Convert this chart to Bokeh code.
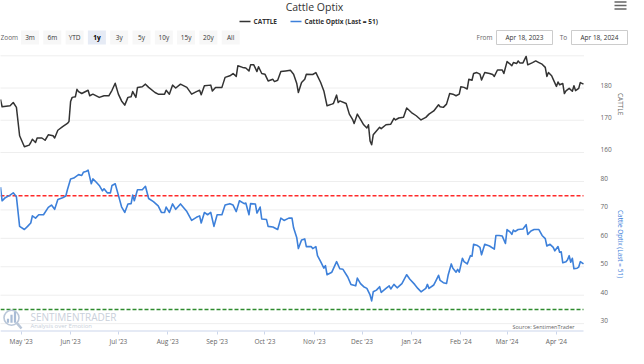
from datetime import datetime, timedelta
import math
from bokeh.plotting import figure
from bokeh.layouts import column
from bokeh.models import Range1d, FixedTicker, DatetimeTickFormatter
from bokeh.embed import file_html
from bokeh.resources import INLINE
from bokeh.core.properties import value

# ---------------- data ----------------
title_text = "Cattle Optix"
series_names = ["CATTLE", "Cattle Optix"]
start_date = datetime(2023, 4, 18)
end_date = datetime(2024, 4, 18)

cattle_days = [0, 1, 6, 8, 10, 12, 15, 18, 19, 20, 22, 23, 26, 28, 30, 33, 34, 36, 39, 42,
               43, 44, 45, 47, 48, 49, 51, 55, 56, 58, 62, 65, 68, 70, 72, 74, 76, 78, 80, 82,
               83, 85, 86, 89, 91, 93, 97, 99, 103, 104, 106, 108, 110, 113, 117, 120, 123, 125, 126, 128,
               132, 133, 135, 139, 141, 144, 146, 148, 149, 152, 154, 156, 157, 159, 161, 162, 164, 166, 168, 171,
               172, 174, 176, 179, 182, 184, 186, 187, 189, 191, 192, 196, 198, 201, 203, 205, 208, 209, 211, 212,
               213, 217, 219, 221, 222, 224, 226, 228, 230, 231, 232, 233, 234, 236, 238, 239, 242, 245, 247, 248,
               250, 253, 255, 258, 261, 264, 267, 269, 272, 275, 276, 278, 280, 282, 284, 286, 288, 289, 291, 293,
               294, 296, 297, 299, 301, 302, 304, 307, 309, 310, 312, 315, 316, 318, 320, 321, 322, 324, 325, 326,
               328, 330, 331, 334, 336, 338, 340, 342, 343, 344, 346, 347, 349, 350, 351, 353, 354, 355, 357, 359,
               360, 361, 363, 364, 366]
cattle_values = [176.5, 174.2, 174.5, 175.5, 174.0, 165.2, 161.8, 162.3, 163.1, 164.1, 163.1, 164.5, 164.5, 163.8, 165.5, 165.2, 164.5, 166.9, 168.0, 169.0,
                 169.6, 175.8, 177.1, 177.3, 179.6, 178.9, 178.3, 179.3, 177.6, 178.1, 177.1, 177.6, 177.6, 179.3, 181.5, 178.1, 176.0, 174.7, 177.1, 177.3,
                 178.9, 177.1, 180.2, 180.4, 181.2, 180.2, 178.6, 178.1, 178.1, 179.3, 178.1, 180.9, 180.0, 181.2, 180.2, 178.1, 178.9, 179.3, 177.9, 180.7,
                 180.9, 179.1, 180.2, 180.2, 183.3, 183.8, 184.5, 183.6, 186.9, 186.4, 186.2, 185.3, 187.2, 187.2, 185.1, 186.6, 184.5, 184.3, 182.2, 182.7,
                 182.0, 182.4, 185.1, 185.3, 185.5, 184.3, 181.4, 178.6, 181.7, 182.7, 184.3, 184.2, 184.8, 181.7, 179.1, 174.5, 175.0, 175.2, 177.8, 175.5,
                 176.0, 175.2, 171.9, 170.3, 169.0, 171.9, 170.3, 168.6, 167.6, 168.6, 163.6, 162.4, 165.5, 166.7, 167.8, 167.4, 168.6, 168.8, 170.6, 170.1,
                 170.7, 170.9, 173.8, 172.4, 171.4, 170.1, 170.9, 171.9, 172.9, 174.8, 174.2, 174.0, 175.0, 178.3, 178.1, 177.6, 178.1, 180.4, 180.2, 179.7,
                 182.7, 182.4, 184.5, 184.8, 184.3, 182.5, 184.8, 184.5, 184.2, 183.6, 185.6, 185.6, 184.5, 188.2, 187.4, 186.9, 187.9, 187.6, 188.4, 187.8,
                 187.8, 189.8, 187.2, 187.9, 188.4, 187.9, 187.4, 186.4, 183.6, 184.8, 183.8, 182.7, 180.5, 181.9, 181.0, 181.4, 178.3, 179.1, 179.9, 179.0,
                 180.7, 179.2, 179.9, 181.7, 181.2]

optix_days = [0, 1, 3, 6, 8, 10, 12, 15, 17, 19, 20, 22, 24, 27, 30, 32, 34, 36, 39, 41,
              42, 44, 46, 49, 51, 52, 54, 55, 57, 58, 60, 62, 64, 65, 67, 69, 70, 72, 74, 76,
              78, 80, 82, 83, 84, 86, 89, 91, 93, 96, 99, 101, 103, 104, 106, 108, 110, 113, 117, 120,
              123, 125, 126, 128, 130, 132, 134, 136, 139, 141, 144, 146, 148, 150, 153, 154, 156, 157, 160, 161,
              163, 164, 167, 168, 171, 174, 176, 178, 181, 183, 184, 186, 187, 189, 191, 192, 195, 196, 198, 199,
              201, 203, 204, 205, 208, 211, 213, 215, 218, 220, 223, 224, 226, 228, 230, 232, 233, 234, 236, 238,
              239, 242, 244, 245, 247, 249, 252, 255, 257, 260, 262, 264, 267, 268, 269, 272, 273, 275, 276, 278,
              280, 281, 283, 284, 286, 287, 288, 290, 291, 293, 295, 296, 297, 299, 301, 302, 304, 307, 310, 311,
              313, 315, 317, 318, 320, 321, 322, 323, 325, 328, 330, 331, 333, 335, 338, 340, 342, 343, 345, 347,
              348, 350, 351, 352, 353, 355, 356, 357, 358, 359, 360, 362, 363, 364, 366]
optix_values = [78.0, 73.2, 74.3, 75.2, 76.0, 74.6, 64.2, 63.1, 64.2, 65.4, 67.9, 67.1, 68.3, 68.3, 70.9, 71.7, 70.2, 73.7, 74.3, 74.9,
                77.1, 80.9, 81.2, 82.4, 82.1, 83.2, 83.6, 84.0, 79.2, 80.9, 79.8, 78.6, 76.7, 77.4, 76.0, 76.0, 78.6, 79.2, 75.2, 71.1,
                69.1, 72.1, 72.2, 75.2, 73.2, 77.1, 77.1, 78.3, 74.0, 72.9, 71.4, 69.1, 69.1, 71.0, 69.1, 72.1, 70.2, 72.1, 69.4, 66.3,
                67.4, 67.9, 65.4, 69.1, 68.3, 69.1, 64.2, 68.3, 68.3, 71.7, 72.2, 71.7, 69.4, 73.2, 72.2, 72.4, 68.3, 72.2, 72.1, 68.9,
                71.0, 66.8, 66.6, 64.2, 64.0, 63.1, 67.1, 66.3, 67.1, 67.1, 63.7, 60.2, 56.4, 59.4, 59.8, 57.1, 57.1, 56.4, 57.1, 53.9,
                51.8, 49.5, 50.4, 47.2, 48.1, 51.8, 49.3, 49.1, 46.4, 43.8, 43.3, 46.0, 44.1, 43.0, 42.4, 40.1, 38.0, 41.2, 41.8, 43.0,
                41.0, 42.4, 43.3, 42.2, 43.8, 42.6, 44.1, 47.2, 45.6, 43.8, 42.4, 41.2, 42.4, 43.8, 42.4, 43.6, 44.7, 47.0, 45.2, 44.4,
                44.1, 47.0, 51.0, 49.5, 48.1, 49.1, 48.1, 53.0, 51.8, 51.0, 53.9, 53.7, 57.9, 57.6, 56.8, 54.2, 57.9, 57.3, 56.2, 61.0,
                61.0, 60.8, 58.2, 63.1, 62.2, 61.4, 62.9, 62.4, 63.1, 63.3, 64.8, 61.4, 62.6, 63.1, 63.1, 61.0, 59.9, 57.3, 57.9, 56.8,
                55.6, 57.1, 55.1, 55.3, 51.4, 51.8, 52.5, 53.9, 51.6, 53.0, 49.3, 49.5, 49.9, 51.8, 51.0]

optix_upper = 75
optix_lower = 35
cattle_ticks = [160, 170, 180]
cattle_grid = [160, 170, 180, 190]
optix_ticks = [30, 40, 50, 60, 70, 80]
zoom_buttons = ["3m", "6m", "YTD", "1y", "3y", "5y", "10y", "15y", "20y", "All"]
selected_button = "1y"
source_text = "Source: SentimenTrader"
logo_name = "SENTIMENTRADER"
logo_tagline = "Analysis over Emotion"

# ---------------- styling / layout ----------------
FONT = "Open Sans"
W = 628              # total width
PW = 583             # width of the plotted period inside the canvas
CATTLE_COLOR = "#333333"
OPTIX_COLOR = "#3d80da"
LABEL_COLOR = "#666666"
GRID_COLOR = "#dcdcdc"
AXIS_COLOR = "#ccd6eb"

cattle_dates = [start_date + timedelta(days=d) for d in cattle_days]
optix_dates = [start_date + timedelta(days=d) for d in optix_days]
optix_label = f"Cattle Optix (Last = {round(optix_values[-1])})"
span_days = (end_date - start_date).days
view_end = start_date + timedelta(days=span_days * W / PW)

EPOCH = datetime(1970, 1, 1)
month_starts = []
yy, mm = start_date.year, start_date.month
while True:
    mm += 1
    if mm > 12:
        mm, yy = 1, yy + 1
    d = datetime(yy, mm, 1)
    if d > end_date:
        break
    month_starts.append((d - EPOCH).total_seconds() * 1000)

# ---------------- header ----------------
HH = 48
hdr = figure(width=W, height=HH, x_range=Range1d(0, W), y_range=Range1d(HH, 0),
             toolbar_location=None, output_backend="svg", min_border=0,
             x_axis_location=None, y_axis_location=None, outline_line_color=None)
hdr.grid.visible = False

def htext(x, y, t, size="6.5px", color="#333333", align="left", style="normal"):
    hdr.text(x=[x], y=[y], text=[t], text_align=align, text_baseline="middle",
             text_font=value(FONT), text_font_size=size, text_color=color,
             text_font_style=style)

htext(314, 6, title_text, size="10.5px", align="center")
hdr.segment(x0=[239], y0=[21], x1=[250], y1=[21], line_color=CATTLE_COLOR, line_width=1.6)
htext(253, 21, series_names[0], style="bold")
hdr.segment(x0=[290], y0=[21], x1=[301], y1=[21], line_color=OPTIX_COLOR, line_width=1.6)
htext(304, 21, optix_label, style="bold")
hdr.segment(x0=[614] * 3, y0=[1.5, 5, 8.5], x1=[626] * 3, y1=[1.5, 5, 8.5],
            line_color=LABEL_COLOR, line_width=1.5)
htext(0, 37, "Zoom", color=LABEL_COLOR)
bx = [29.5 + i * 22.3 for i in range(len(zoom_buttons))]
fills = ["#e6ebf5" if b == selected_button else "#f7f7f7" for b in zoom_buttons]
hdr.rect(x=bx, y=[37] * len(bx), width=18, height=14, fill_color=fills, line_color=None)
for x, b in zip(bx, zoom_buttons):
    sel = b == selected_button
    htext(x, 37, b, align="center", color="#000000" if sel else "#333333",
          style="bold" if sel else "normal")
htext(492, 37, "From", color=LABEL_COLOR, align="right")
hdr.rect(x=[524, 599], y=[37, 37], width=56, height=14, fill_color="white",
         line_color="#cccccc", line_width=1)
htext(524, 37, start_date.strftime("%b %d, %Y"), align="center")
htext(563, 37, "To", color=LABEL_COLOR, align="center")
htext(599, 37, end_date.strftime("%b %d, %Y"), align="center")

# ---------------- shared x range ----------------
xr = Range1d(start=start_date, end=view_end)

def pane(p, ticks, grid, label, label_color, yr):
    p.grid.visible = False
    p.extra_x_ranges = {"px": Range1d(0, W)}
    # horizontal grid lines across the plotted period
    p.segment(x0=[start_date] * len(grid), y0=grid, x1=[end_date] * len(grid), y1=grid,
              line_color=GRID_COLOR, line_width=1, line_dash="1 1")
    # right-hand tick labels
    p.text(x=[600] * len(ticks), y=ticks, text=[str(t) for t in ticks], x_range_name="px",
           text_baseline="middle", text_align="left", y_offset=-3,
           text_font=value(FONT), text_font_size="6.5px", text_color=LABEL_COLOR)
    # rotated axis title
    p.text(x=[620], y=[(yr[0] + yr[1]) / 2], text=[label], x_range_name="px",
           angle=-math.pi / 2, text_align="center", text_baseline="middle",
           text_font=value(FONT), text_font_size="6.5px", text_color=label_color)

# ---------------- top pane ----------------
top_yr = (159.07, 190.4)
top = figure(width=W, height=107, x_range=xr, y_range=Range1d(*top_yr),
             x_axis_type="datetime", x_axis_location=None, y_axis_location=None,
             toolbar_location=None, output_backend="svg",
             min_border_left=0, min_border_right=0, min_border_top=6, min_border_bottom=0,
             outline_line_color=None)
pane(top, cattle_ticks, cattle_grid, series_names[0], LABEL_COLOR, (160, 190))
top.line(cattle_dates, cattle_values, line_color=CATTLE_COLOR, line_width=1.5, line_join="round")

# ---------------- bottom pane ----------------
bot_yr = (27.24, 86.67)
bot = figure(width=W, height=193, x_range=xr, y_range=Range1d(*bot_yr),
             x_axis_type="datetime", y_axis_location=None,
             toolbar_location=None, output_backend="svg",
             min_border_left=0, min_border_right=0, min_border_top=7, min_border_bottom=14,
             outline_line_color=None)
pane(bot, optix_ticks, optix_ticks, optix_label, OPTIX_COLOR, (30, 86))
xa = bot.xaxis[0]
xa.ticker = FixedTicker(ticks=month_starts)
xa.formatter = DatetimeTickFormatter(days="%b '%y", months="%b '%y", years="%b '%y")
xa.axis_line_color = None
xa.major_tick_line_color = AXIS_COLOR
xa.major_tick_out = 3
xa.major_tick_in = 0
xa.minor_tick_line_color = None
xa.minor_tick_out = 0
xa.major_label_text_color = LABEL_COLOR
xa.major_label_text_font = FONT
xa.major_label_text_font_size = "6.5px"
xa.major_label_standoff = 2
# x axis baseline over the plotted period
bot.segment(x0=[start_date], y0=[bot_yr[0]], x1=[end_date], y1=[bot_yr[0]],
            line_color=AXIS_COLOR, line_width=2)

# threshold lines
bot.segment(x0=[start_date], y0=[optix_upper], x1=[end_date], y1=[optix_upper],
            line_color="#ff2a2a", line_dash="4 2", line_width=1.5)
bot.segment(x0=[start_date], y0=[optix_lower], x1=[end_date], y1=[optix_lower],
            line_color="#2e8b2e", line_dash="4 2", line_width=1.5)
bot.line(optix_dates, optix_values, line_color=OPTIX_COLOR, line_width=1.6, line_join="round")

# logo / source in frame pixel space
FH = 193 - 7 - 14
bot.extra_y_ranges = {"px": Range1d(0, FH)}
bot.scatter(x=[11], y=[14], size=15, marker="circle", fill_color="white",
            line_color="#b9c6d8", line_width=1.6, x_range_name="px", y_range_name="px")
bot.vbar(x=[7.5, 11, 14.5], bottom=[9, 9, 9], top=[13, 17, 20], width=2.2,
         fill_color="#a9bcd6", line_color=None, x_range_name="px", y_range_name="px")
bot.segment(x0=[16], y0=[9], x1=[21], y1=[3], line_color="#b9c6d8", line_width=2.5,
            x_range_name="px", y_range_name="px")
bot.text(x=[30], y=[15], text=[logo_name], text_baseline="middle", text_font=value(FONT),
         text_font_size="10px", text_color="#c9d0da", x_range_name="px", y_range_name="px")
bot.text(x=[30], y=[6], text=[logo_tagline], text_baseline="middle", text_font=value(FONT),
         text_font_size="6px", text_color="#c9d0da", x_range_name="px", y_range_name="px")
bot.text(x=[PW - 9], y=[5], text=[source_text], text_baseline="middle", text_align="right",
         text_font=value(FONT), text_font_size="5.5px", text_color=LABEL_COLOR,
         x_range_name="px", y_range_name="px")

layout = column(hdr, top, bot, spacing=0)
open("out.html", "w").write(file_html(layout, INLINE))
